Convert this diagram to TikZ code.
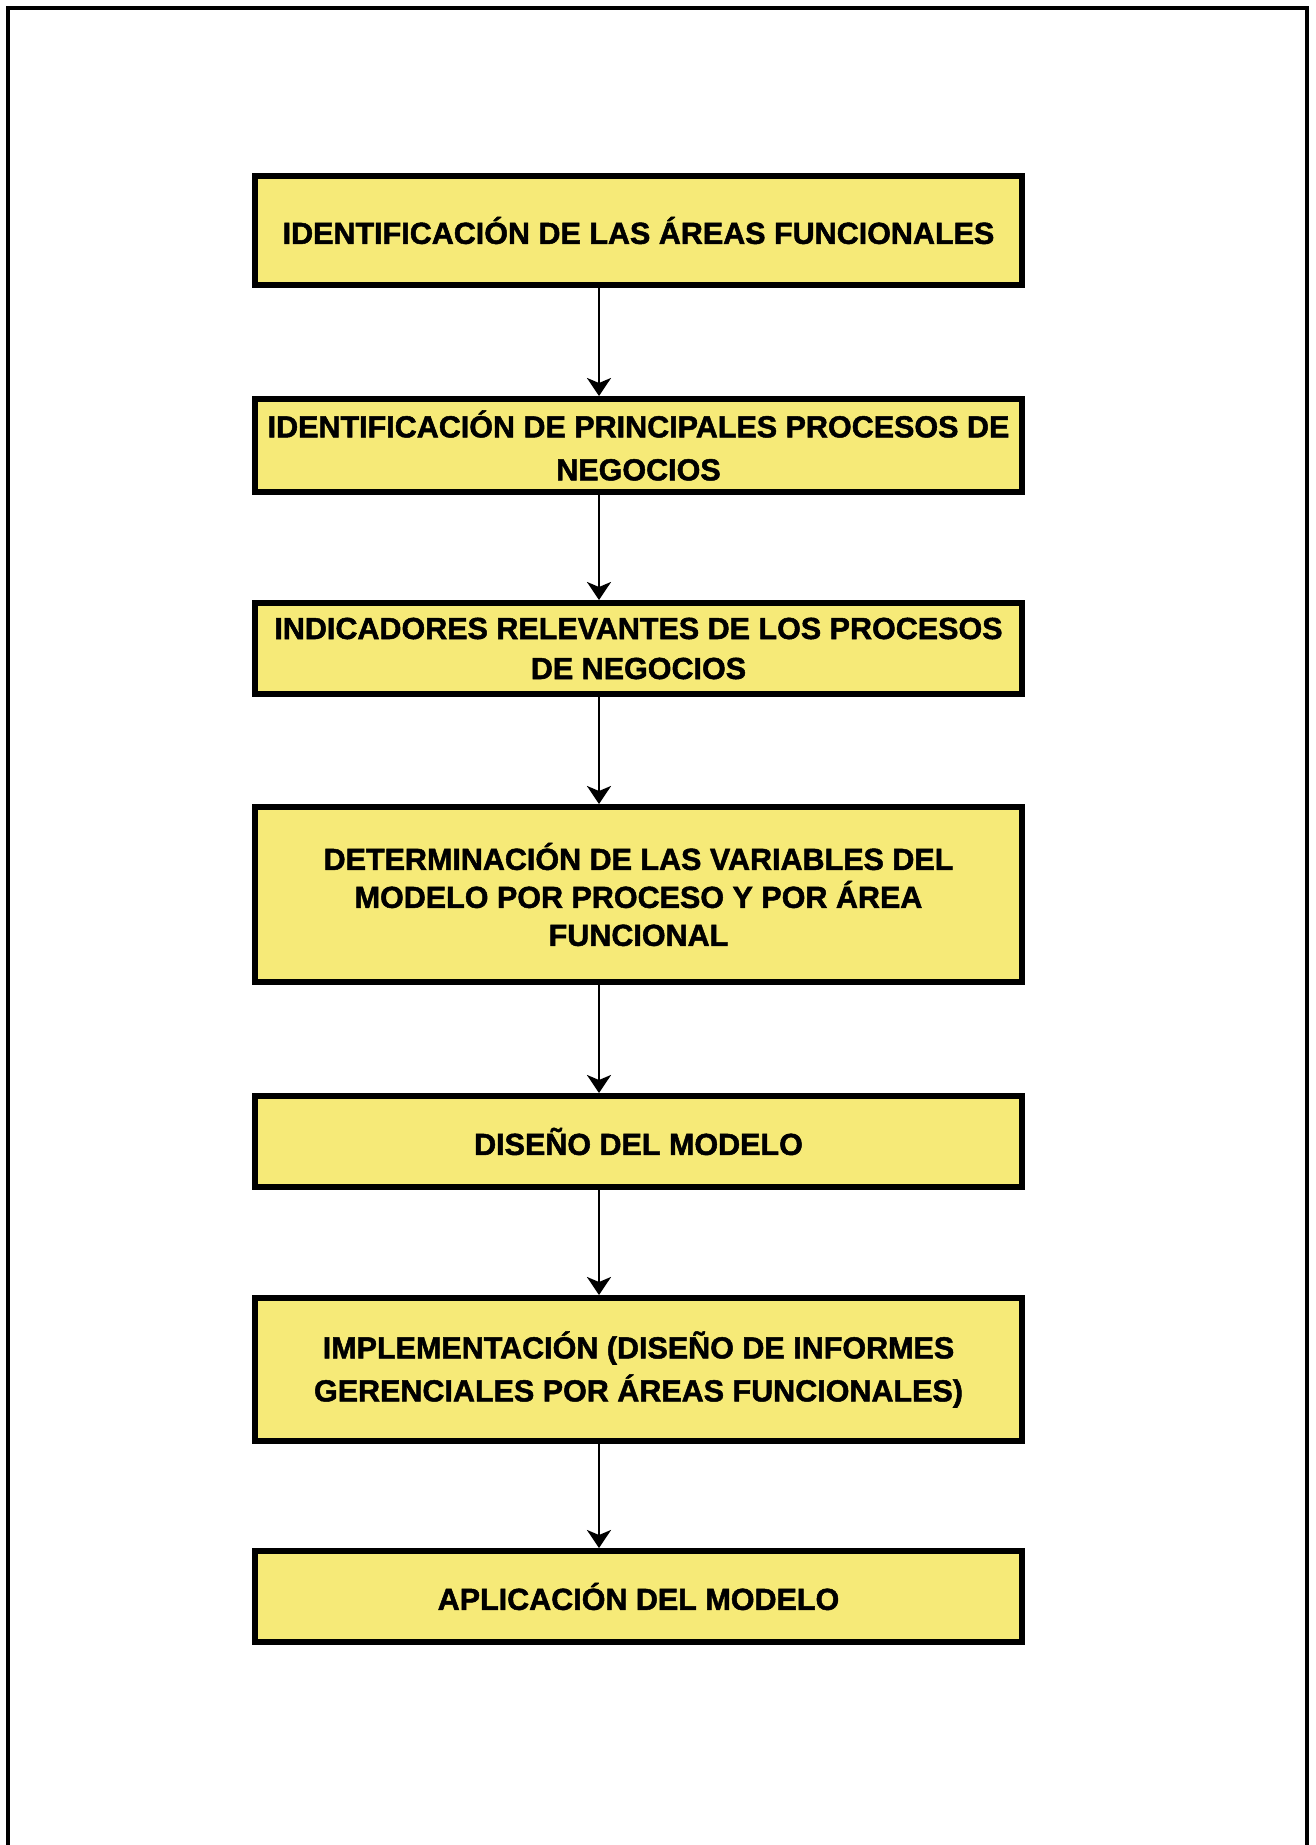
\documentclass[tikz,border=0pt]{standalone}
\usepackage{fontspec}
\setmainfont{Liberation Sans}[BoldFeatures={FakeBold=1.6}]
\usetikzlibrary{arrows.meta}
\definecolor{boxfill}{RGB}{246,234,120}
\begin{document}
\begin{tikzpicture}[x=1pt,y=-1pt,
  stepbox/.style={draw=black, line width=6pt, fill=boxfill, rectangle,
    inner sep=0pt, minimum width=767pt, align=center,
    font=\fontsize{30.5}{40}\selectfont\bfseries},
  flow/.style={draw=black, line width=2.8pt,
    -{Stealth[length=18pt,width=24pt,inset=5pt]}},
  pageframe/.style={draw=black, line width=3.2pt}]
  % page and frame (open at the bottom)
  \fill[white] (0,0) rectangle (1315,1845);
  \useasboundingbox (0,0) rectangle (1315,1845);
  \draw[pageframe] (8,1845) -- (8,8) -- (1307,8) -- (1307,1845);

  % process steps
  \node[stepbox, minimum height=109pt] (b1) at (638.5,230.5)
    {IDENTIFICACIÓN DE LAS ÁREAS FUNCIONALES};
  \node[stepbox, minimum height=93pt, font=\fontsize{30.5}{43}\selectfont\bfseries] (b2) at (638.5,445.5)
    {IDENTIFICACIÓN DE PRINCIPALES PROCESOS DE\\NEGOCIOS};
  \node[stepbox, minimum height=91pt] (b3) at (638.5,648.5)
    {INDICADORES RELEVANTES DE LOS PROCESOS\\DE NEGOCIOS};
  \node[stepbox, minimum height=175pt, font=\fontsize{30.5}{38}\selectfont\bfseries] (b4) at (638.5,894.5)
    {DETERMINACIÓN DE LAS VARIABLES DEL\\MODELO POR PROCESO Y POR ÁREA\\FUNCIONAL};
  \node[stepbox, minimum height=91pt] (b5) at (638.5,1141.5)
    {DISEÑO DEL MODELO};
  \node[stepbox, minimum height=143pt, font=\fontsize{30.5}{43}\selectfont\bfseries] (b6) at (638.5,1369.5)
    {IMPLEMENTACIÓN (DISEÑO DE INFORMES\\GERENCIALES POR ÁREAS FUNCIONALES)};
  \node[stepbox, minimum height=91pt] (b7) at (638.5,1596.5)
    {APLICACIÓN DEL MODELO};

  % connectors run down a common vertical line
  \coordinate (ax) at (599,0);
  \foreach \a/\b in {b1/b2,b2/b3,b3/b4,b4/b5,b5/b6,b6/b7}
    \draw[flow] (ax |- \a.south) -- (ax |- \b.north);
\end{tikzpicture}
\end{document}
